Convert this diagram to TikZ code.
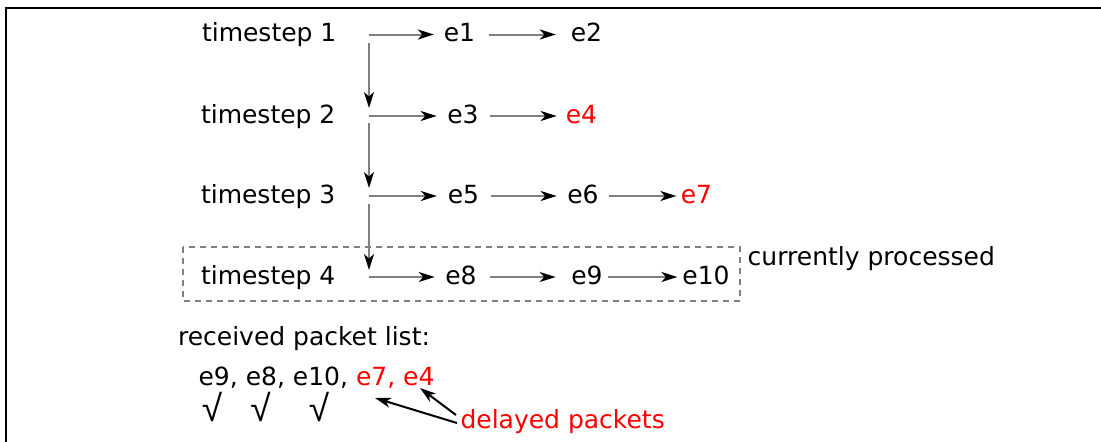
\documentclass[tikz,border=0pt]{standalone}
\usepackage{fontspec}
\setmainfont{DejaVu Sans}
\newfontfamily\chkfont{Liberation Sans}
\usetikzlibrary{arrows.meta}
\definecolor{shaft}{RGB}{128,128,128}
\definecolor{hl}{RGB}{255,0,0}
\tikzset{
 txt/.style={font=\fontsize{25}{30}\selectfont, inner sep=0pt, outer sep=0pt, anchor=base west},
 ev/.style={font=\fontsize{25}{30}\selectfont, inner sep=0pt, outer sep=0pt, anchor=base, text height=14pt, text depth=0pt},
 chk/.style={font=\chkfont\fontsize{37}{44}\selectfont, inner sep=0pt, outer sep=0pt, anchor=base},
 tipblk/.style={-{Stealth[black,length=16pt,width=10pt,inset=4.5pt]}},
 flow/.style={draw=shaft, line width=2pt, tipblk},
 ptr/.style={draw=black, line width=2pt, -{Stealth[length=16pt,width=10pt,inset=4.5pt]}},
 curbox/.style={draw=shaft, line width=2pt, dash pattern=on 6pt off 5pt},
 frame/.style={draw=black, line width=1.5pt},
}
\begin{document}
\begin{tikzpicture}[x=1pt,y=-1pt]
\useasboundingbox (0,0) rectangle (1101,442);
% frame (left and top edges)
\draw[frame] (6,442) -- (6,8) -- (1101,8);

% timestep labels
\node[txt] (ts1) at (202,41.5) {timestep 1};
\node[txt] (ts2) at (201,123) {timestep 2};
\node[txt] (ts3) at (201,203) {timestep 3};
\node[txt] (ts4) at (201,284) {timestep 4};

% branch points
\coordinate (t1) at (369,34.5);
\coordinate (t2) at (369,116);
\coordinate (t3) at (369,196);
\coordinate (t4) at (369,277);

% events
\node[ev] (e1) at (459.5,41.5) {e1};
\node[ev] (e2) at (586.5,41.5) {e2};
\node[ev] (e3) at (463,123) {e3};
\node[ev,text=hl] (e4) at (581.5,123) {e4};
\node[ev] (e5) at (463.5,203) {e5};
\node[ev] (e6) at (583,203) {e6};
\node[ev,text=hl] (e7) at (696.5,203) {e7};
\node[ev] (e8) at (461,284) {e8};
\node[ev] (e9) at (587,284) {e9};
\node[ev] (e10) at (706,284) {e10};

% vertical arrows
\draw[flow, shorten <=8.5pt, shorten >=8pt] (t1) -- (t2);
\draw[flow, shorten <=7pt, shorten >=8pt] (t2) -- (t3);
\draw[flow, shorten <=8pt, shorten >=7pt] (t3) -- (t4);

% horizontal arrows
\draw[flow, shorten >=10pt] (t1) -- (e1.west);
\draw[flow, shorten <=14pt, shorten >=15pt] (e1.east) -- (e2.west);
\draw[flow, shorten >=10.7pt] (t2) -- (e3.west);
\draw[flow, shorten <=11.7pt, shorten >=9.2pt] (e3.east) -- (e4.west);
\draw[flow, shorten >=11pt] (t3) -- (e5.west);
\draw[flow, shorten <=12pt, shorten >=10.7pt] (e5.east) -- (e6.west);
\draw[flow, shorten <=10.7pt, shorten >=4.5pt] (e6.east) -- (e7.west);
\draw[flow, shorten >=10.7pt] (t4) -- (e8.west);
\draw[flow, shorten <=13.7pt, shorten >=15.7pt] (e8.east) -- (e9.west);
\draw[flow, shorten <=5.7pt, shorten >=5pt] (e9.east) -- (e10.west);

% currently processed box
\draw[curbox] (183,247) rectangle (740,301);
\node[txt] (cur) at (747.7,265) {currently processed};

% received list
\node[txt] (rec) at (178,345) {received packet list:};
\node[txt] (lst) at (198.6,385) {e9, e8, e10, \textcolor{hl}{e7, e4}};
\node[chk] (c1) at (212,421) {√};
\node[chk] (c2) at (260.5,421) {√};
\node[chk] (c3) at (319,421) {√};

% delayed packets
\node[txt,text=hl] (dp) at (460.5,428) {delayed packets};
\coordinate (d1) at (457,423);
\coordinate (d2) at (456,415);
\coordinate (p7) at (375,398);
\coordinate (p4) at (420,388);
\draw[ptr] (d1) -- (p7);
\draw[ptr] (d2) -- (p4);
\end{tikzpicture}
\end{document}
